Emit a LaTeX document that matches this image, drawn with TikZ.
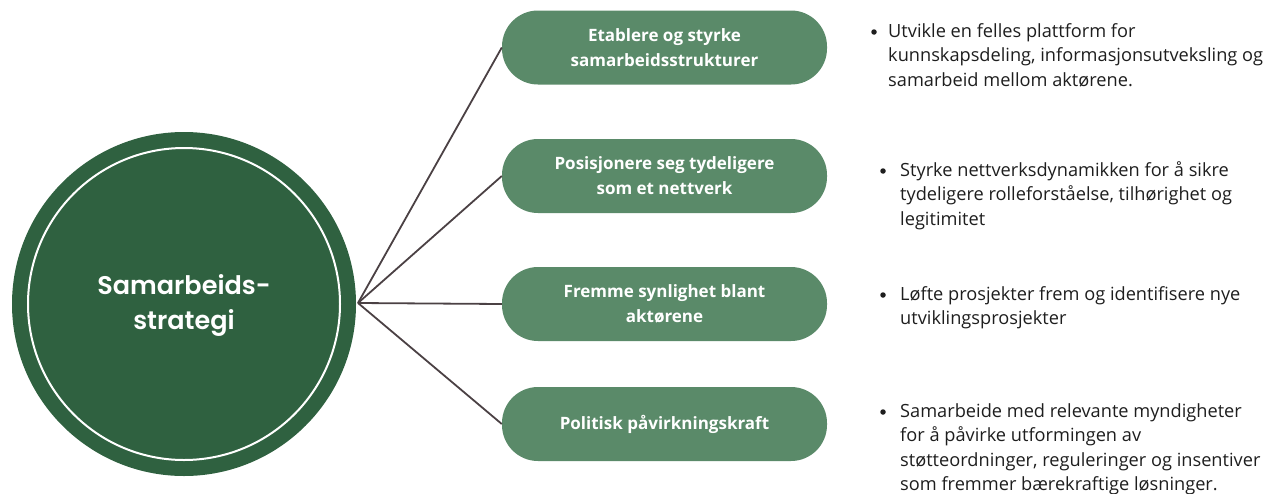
\documentclass[tikz,border=0pt]{standalone}
\usepackage{fontspec}
\setmainfont{Open Sans}
\newfontfamily\circfont{Poppins}[UprightFont=* SemiBold, BoldFont=* Bold]
\definecolor{darkgreen}{HTML}{2F6140}
\definecolor{pillgreen}{HTML}{5A8A69}
\definecolor{linegray}{HTML}{4B4144}
\definecolor{bodytext}{HTML}{1E1E1E}
\begin{document}
\begin{tikzpicture}[x=1pt,y=-1pt,
  pill/.style={fill=pillgreen, rounded corners=36pt, minimum width=325pt, minimum height=74pt,
    text=white, font=\fontsize{17}{25}\selectfont\bfseries, align=center, inner sep=0pt},
  conn/.style={draw=linegray, line width=1.8pt},
  bullettext/.style={anchor=north west, text=bodytext, font=\fontsize{18.2}{24.5}\selectfont,
    align=left, inner sep=0pt},
  dot/.style={circle, fill=bodytext, inner sep=0pt, minimum size=5.5pt}]
\useasboundingbox (0,0) rectangle (1274,493);
\node[circle, fill=darkgreen, minimum size=344pt, inner sep=0pt] (hubc) at (184,304) {};
\draw[white, line width=2pt] (hubc.center) circle[radius=156pt];
\node[text=white, font=\circfont\fontsize{25.5}{35}\selectfont, align=center] (ctitle) at (184,305) {Samarbeids-\\strategi};
\coordinate (hub) at (358,303);
\node[pill] (p1) at (664.5,47.5) {Etablere og styrke\\samarbeidsstrukturer};
\node[pill] (p2) at (664.5,176) {Posisjonere seg tydeligere\\som et nettverk};
\node[pill] (p3) at (664.5,304) {Fremme synlighet blant\\aktørene};
\node[pill] (p4) at (664.5,424) {Politisk påvirkningskraft};
\draw[conn] (hub) -- (p1.west);
\draw[conn] (hub) -- (p2.west);
\draw[conn] (hub) -- (p3.west);
\draw[conn] (hub) -- (p4.west);
\node[dot] (d1) at (874,32) {};
\node[bullettext] (t1) at (888,19.85) {\strut Utvikle en felles plattform for\\kunnskapsdeling, informasjonsutveksling og\\samarbeid mellom aktørene.};
\node[dot] (d2) at (883,171) {};
\node[bullettext] (t2) at (900,158.85) {\strut Styrke nettverksdynamikken for å sikre\\tydeligere rolleforståelse, tilhørighet og\\legitimitet};
\node[dot] (d3) at (883,295) {};
\node[bullettext] (t3) at (900,282.85) {\strut Løfte prosjekter frem og identifisere nye\\utviklingsprosjekter};
\node[dot] (d4) at (883,412) {};
\node[bullettext] (t4) at (900,399.85) {\strut Samarbeide med relevante myndigheter\\for å påvirke utformingen av\\støtteordninger, reguleringer og insentiver\\som fremmer bærekraftige løsninger.};
\end{tikzpicture}
\end{document}
